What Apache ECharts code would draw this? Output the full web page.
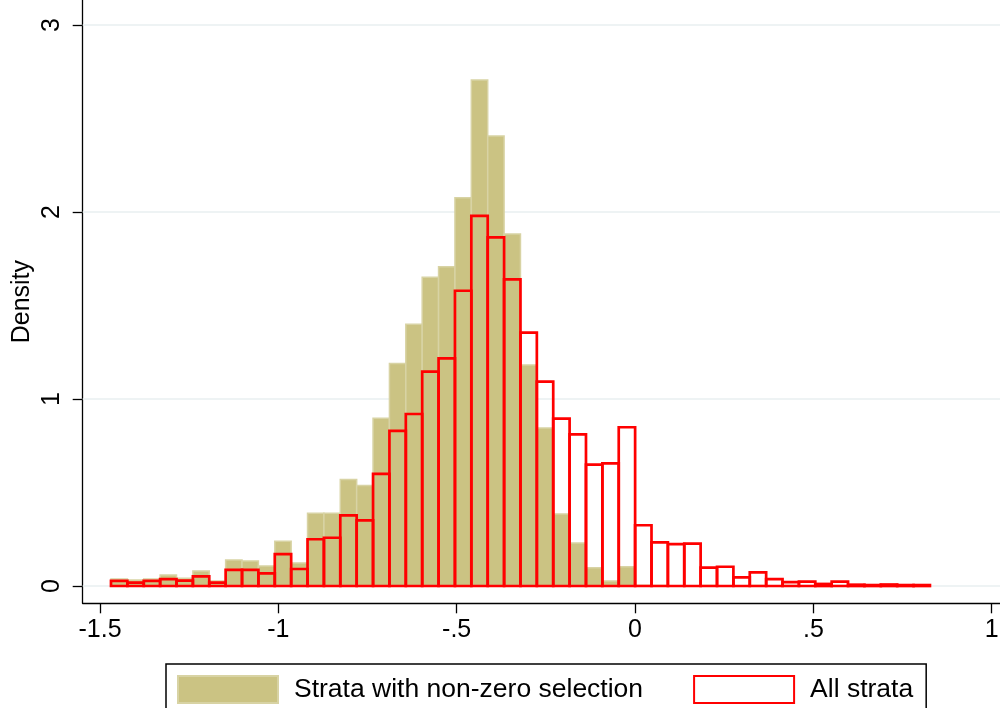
<!DOCTYPE html>
<html>
<head>
<meta charset="utf-8">
<script src="https://cdn.jsdelivr.net/npm/echarts@6/dist/echarts.min.js"></script>
<style>
html,body{margin:0;padding:0;background:#fff;}
#chart{width:1000px;height:708px;}
</style>
</head>
<body>
<div id="chart"></div>
<script>
// Histogram bin definition (Stata-style: start + width)
const BIN_START = -1.4692;
const BIN_WIDTH = 0.04592;

// Density per bin (50 bins)
const selectedDensity = [
  0.037, 0.032, 0.037, 0.059, 0.041, 0.080, 0.027, 0.139, 0.134, 0.107,
  0.240, 0.123, 0.389, 0.389, 0.570, 0.538, 0.897, 1.190, 1.400, 1.651,
  1.708, 2.077, 2.706, 2.406, 1.882, 1.182, 0.845, 0.385, 0.230, 0.098,
  0.027, 0.103, 0.004, 0.003, 0.000, 0.000, 0.003, 0.000, 0.000, 0.003,
  0.000, 0.003, 0.000, 0.002, 0.002, 0.000, 0.000, 0.000, 0.000, 0.000
];
const allDensity = [
  0.027, 0.018, 0.027, 0.037, 0.029, 0.052, 0.018, 0.086, 0.086, 0.068,
  0.170, 0.091, 0.250, 0.258, 0.378, 0.351, 0.600, 0.830, 0.920, 1.146,
  1.217, 1.579, 1.979, 1.865, 1.640, 1.355, 1.093, 0.895, 0.811, 0.649,
  0.656, 0.849, 0.325, 0.233, 0.224, 0.227, 0.098, 0.103, 0.046, 0.073,
  0.037, 0.021, 0.023, 0.011, 0.023, 0.007, 0.005, 0.008, 0.005, 0.005
];

const xTicks = [-1.5, -1, -0.5, 0, 0.5, 1];
const xTickLabels = ['-1.5', '-1', '-.5', '0', '.5', '1'];
const yTicks = [0, 1, 2, 3];
const seriesNames = ['Strata with non-zero selection', 'All strata'];

function toBins(values) {
  return values.map((v, i) => [BIN_START + i * BIN_WIDTH, BIN_START + (i + 1) * BIN_WIDTH, v]);
}

const FONT = "'Liberation Sans', Arial, Helvetica, sans-serif";
const TAN = '#cbc383';
const TAN_EDGE = '#d8d3a4';
const RED = '#ff0000';

function makeRender(fill, stroke, lw) {
  return function (params, api) {
    const h = api.value(2);
    if (!(h > 0)) return null;
    const a = api.coord([api.value(0), 0]);
    const b = api.coord([api.value(1), h]);
    return {
      type: 'rect',
      shape: { x: a[0], y: b[1], width: b[0] - a[0], height: a[1] - b[1] },
      style: { fill: fill, stroke: stroke, lineWidth: lw }
    };
  };
}

const chart = echarts.init(document.getElementById('chart'), null, { renderer: 'canvas' });

const option = {
  animation: false,
  backgroundColor: '#ffffff',
  textStyle: { fontFamily: FONT },
  grid: { left: 82.7, right: 0, top: 0, bottom: 104.7, containLabel: false, outerBoundsMode: 'none' },
  xAxis: {
    type: 'value',
    min: -1.5485,
    max: 1.0232,
    axisLine: { show: true, onZero: false, lineStyle: { color: '#000', width: 1.3 } },
    axisTick: { show: true, customValues: xTicks, length: 10, lineStyle: { color: '#000', width: 1.3 } },
    axisLabel: {
      customValues: xTicks,
      formatter: function (v) {
        const i = xTicks.findIndex(t => Math.abs(t - v) < 1e-9);
        return i >= 0 ? xTickLabels[i] : '';
      },
      fontFamily: FONT, fontSize: 25, color: '#000', margin: 14
    },
    splitLine: { show: false }
  },
  yAxis: {
    type: 'value',
    min: -0.0925,
    max: 3.134,
    name: 'Density',
    nameLocation: 'middle',
    nameRotate: 90,
    nameGap: 48,
    nameMoveOverlap: false,
    nameTextStyle: { fontFamily: FONT, fontSize: 25, color: '#000' },
    axisLine: { show: true, onZero: false, lineStyle: { color: '#000', width: 1.3 } },
    axisTick: { show: true, customValues: yTicks, length: 10, lineStyle: { color: '#000', width: 1.3 } },
    axisLabel: { customValues: yTicks, rotate: 90, fontFamily: FONT, fontSize: 25, color: '#000', margin: 18 },
    splitLine: { show: false }
  },
  legend: {
    left: 166,
    top: 664,
    orient: 'horizontal',
    selectedMode: false,
    padding: [11, 13, 11, 11],
    itemWidth: 100,
    itemHeight: 27,
    itemGap: 50,
    borderColor: '#000',
    borderWidth: 1.5,
    textStyle: { fontFamily: FONT, fontSize: 26.5, color: '#000', padding: [0, 0, 0, 11] },
    data: [
      { name: seriesNames[0], icon: 'rect', itemStyle: { color: TAN, borderColor: TAN_EDGE, borderWidth: 2 } },
      { name: seriesNames[1], icon: 'rect', itemStyle: { color: '#ffffff', borderColor: RED, borderWidth: 2 } }
    ]
  },
  series: [
    {
      name: '_grid',
      type: 'line',
      data: [],
      silent: true,
      markLine: {
        z: 1,
        silent: true,
        symbol: 'none',
        label: { show: false },
        lineStyle: { color: '#e8eff1', width: 1.5, type: 'solid' },
        data: yTicks.map(v => ({ yAxis: v }))
      }
    },
    {
      name: seriesNames[0],
      type: 'custom',
      z: 2,
      renderItem: makeRender(TAN, TAN_EDGE, 1.5),
      encode: { x: [0, 1], y: 2 },
      itemStyle: { color: TAN },
      data: toBins(selectedDensity)
    },
    {
      name: seriesNames[1],
      type: 'custom',
      z: 3,
      renderItem: makeRender('rgba(0,0,0,0)', RED, 2.7),
      encode: { x: [0, 1], y: 2 },
      itemStyle: { color: RED },
      data: toBins(allDensity)
    }
  ]
};

chart.setOption(option);
</script>
</body>
</html>
